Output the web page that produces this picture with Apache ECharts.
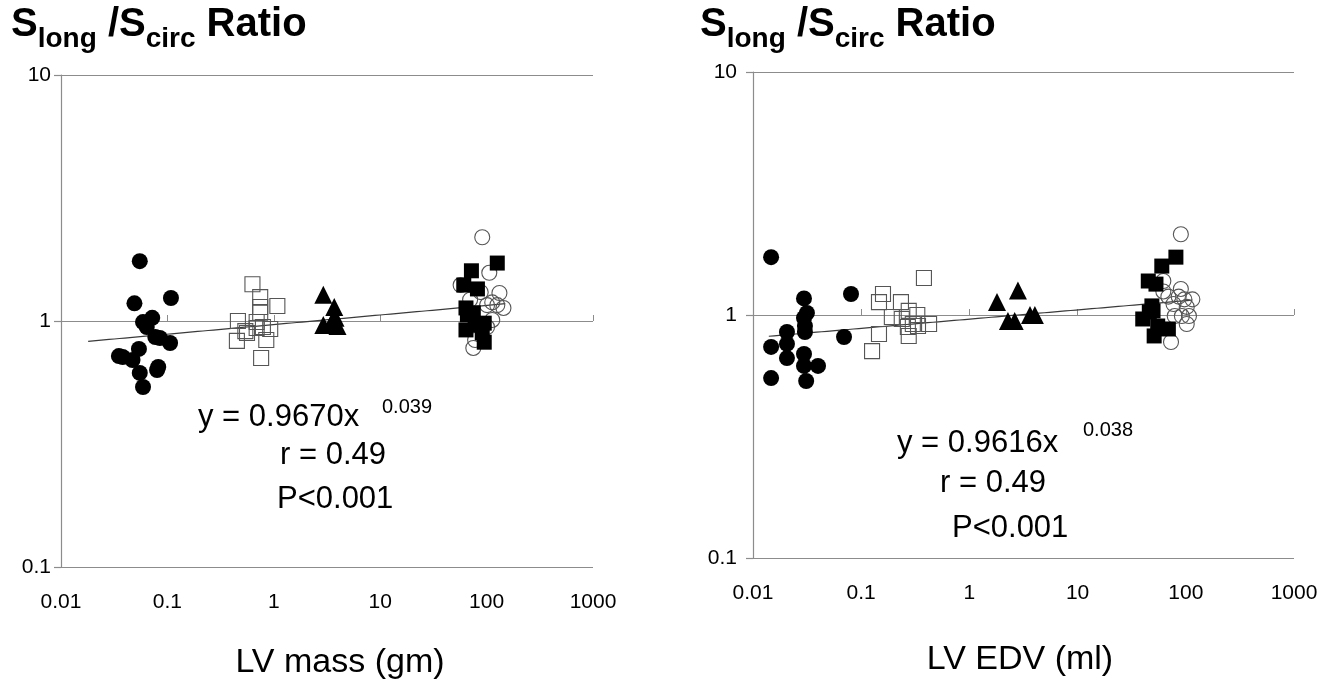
<!DOCTYPE html>
<html>
<head>
<meta charset="utf-8">
<script src="https://cdn.jsdelivr.net/npm/echarts@6/dist/echarts.min.js"></script>
<style>
  html, body { margin: 0; padding: 0; background: #fff; }
  #chart { width: 1332px; height: 689px; }
</style>
</head>
<body>
<div id="chart"></div>
<script>
// Tick labels for both panels
const xTickLabels = ['0.01', '0.1', '1', '10', '100', '1000'];
const yTickLabels = ['0.1', '1', '10'];

// Left panel: ratio vs LV mass (gm)
const massFilledCircle = [[0.055,1.75],[0.049,1.18],[0.108,1.24],[0.059,0.99],[0.072,1.03],[0.064,0.945],[0.077,0.86],[0.085,0.853],[0.106,0.814],[0.054,0.77],[0.038,0.714],[0.047,0.694],[0.055,0.615],[0.082,0.65],[0.080,0.632],[0.059,0.539],[0.035,0.72]];
const massOpenSquare = [[0.63,1.41],[0.745,1.25],[0.745,1.14],[1.08,1.15],[0.745,1.08],[0.46,1.0],[0.69,0.99],[0.925,0.928],[0.54,0.91],[0.69,0.937],[0.79,0.945],[0.45,0.83],[0.85,0.837],[0.76,0.707],[0.56,0.894]];
const massTriangle = [[2.92,1.28],[3.7,1.14],[3.8,1.03],[2.92,0.963],[3.97,0.954],[3.5,0.99]];
const massOpenCircle = [[91,2.19],[106,1.57],[57,1.40],[88,1.31],[132,1.30],[70,1.22],[113,1.19],[126,1.16],[144,1.13],[101,1.16],[113,1.01],[101,0.945],[75,0.777],[78,0.837]];
const massFilledSquare = [[126,1.72],[72,1.60],[61,1.40],[82,1.35],[64,1.13],[75,1.08],[66,1.06],[95,0.98],[64,0.92],[91,0.894],[95,0.82],[78,0.963]];
const massFit = { a: 0.9670, b: 0.039, from: 0.018, to: 150 };

// Right panel: ratio vs LV EDV (ml)
const edvFilledCircle = [[0.0147,1.73],[0.0296,1.17],[0.0805,1.22],[0.0315,1.02],[0.0296,0.972],[0.0302,0.901],[0.0302,0.851],[0.0206,0.851],[0.0206,0.76],[0.0147,0.739],[0.0206,0.665],[0.0296,0.691],[0.0296,0.617],[0.0399,0.617],[0.0147,0.55],[0.031,0.535],[0.0694,0.812]];
const edvOpenSquare = [[0.159,1.22],[0.146,1.13],[0.233,1.13],[0.38,1.42],[0.275,1.04],[0.33,1.0],[0.192,0.981],[0.237,0.963],[0.424,0.918],[0.27,0.893],[0.335,0.901],[0.146,0.835],[0.275,0.82],[0.126,0.71],[0.30,0.918]];
const edvTriangle = [[2.81,1.26],[1.8,1.13],[2.27,0.945],[2.62,0.945],[3.63,1.0],[4.03,1.0]];
const edvFilledSquare = [[81,1.73],[60,1.59],[45,1.38],[53,1.34],[48.6,1.09],[49.8,1.04],[40,0.963],[55,0.901],[69,0.876],[51,0.82],[46,1.03]];
const edvOpenCircle = [[90,2.15],[62,1.38],[90,1.28],[69,1.19],[86,1.19],[97,1.16],[115,1.16],[77,1.11],[102,1.08],[79,0.99],[92,0.99],[107,0.99],[102,0.918],[73,0.774],[62,1.25]];
const edvFit = { a: 0.9616, b: 0.038, from: 0.014, to: 115 };

// Power-law fit y = a * x^b sampled in log space
function fitCurve(fit) {
  const pts = [];
  const l0 = Math.log10(fit.from), l1 = Math.log10(fit.to);
  const n = 80;
  for (let i = 0; i <= n; i++) {
    const x = Math.pow(10, l0 + (l1 - l0) * i / n);
    pts.push([x, fit.a * Math.pow(x, fit.b)]);
  }
  return pts;
}

const FONT = 'Liberation Sans, Arial, Helvetica, sans-serif';
const GRID_LINE = '#8c8c8c';

const grids = [
  { left: 61, top: 75, width: 532, height: 492 },
  { left: 753, top: 72, width: 541, height: 486 }
];

function mainX(gi) {
  return {
    type: 'log', logBase: 10, gridIndex: gi, min: 0.01, max: 1000, interval: 1,
    axisLine: { show: false }, axisTick: { show: false }, splitLine: { show: false },
    axisLabel: {
      margin: 25, color: '#000', fontSize: 21, fontFamily: FONT,
      formatter: (v, i) => xTickLabels[i]
    }
  };
}
// Axis crossing at ratio = 1 with short upward ticks
function crossX(gi, off) {
  return {
    type: 'log', logBase: 10, gridIndex: gi, min: 0.01, max: 1000, interval: 1,
    position: 'bottom', offset: off,
    axisLine: { show: false }, axisLabel: { show: false }, splitLine: { show: false },
    axisTick: { show: true, inside: true, length: 6, lineStyle: { color: GRID_LINE, width: 1 } }
  };
}
function mainY(gi, margin) {
  return {
    type: 'log', logBase: 10, gridIndex: gi, min: 0.1, max: 10, interval: 1,
    axisLine: { show: true, lineStyle: { color: GRID_LINE, width: 1.2 } },
    axisTick: { show: true, length: 7, lineStyle: { color: GRID_LINE, width: 1.2 } },
    splitLine: { show: true, lineStyle: { color: GRID_LINE, width: 1.2 } },
    axisLabel: {
      margin: margin, color: '#000', fontSize: 21, fontFamily: FONT,
      formatter: (v, i) => yTickLabels[i]
    }
  };
}

function panelSeries(gi, d) {
  const ax = { xAxisIndex: gi * 2, yAxisIndex: gi };
  return [
    Object.assign({ type: 'line', data: fitCurve(d.fit), showSymbol: false, symbol: 'none',
      lineStyle: { color: '#3a3a3a', width: 1.2 }, z: 1, silent: true }, ax),
    Object.assign({ type: 'scatter', data: d.filledCircle, symbol: 'circle', symbolSize: 16,
      itemStyle: { color: '#000', opacity: 1 }, z: 3 }, ax),
    Object.assign({ type: 'scatter', data: d.openSquare, symbol: 'rect', symbolSize: 15,
      itemStyle: { color: 'rgba(0,0,0,0)', borderColor: '#555', borderWidth: 1.1, opacity: 1 }, z: 3 }, ax),
    Object.assign({ type: 'scatter', data: d.triangle, symbol: 'triangle', symbolSize: 18,
      itemStyle: { color: '#000', opacity: 1 }, z: 3 }, ax),
    Object.assign({ type: 'scatter', data: d.openCircle, symbol: 'circle', symbolSize: 15,
      itemStyle: { color: 'rgba(0,0,0,0)', borderColor: '#555', borderWidth: 1.1, opacity: 1 }, z: 3 }, ax),
    Object.assign({ type: 'scatter', data: d.filledSquare, symbol: 'rect', symbolSize: 15,
      itemStyle: { color: '#000', opacity: 1 }, z: 4 }, ax)
  ];
}

const titleRich = {
  a: { fontSize: 40, fontWeight: 'bold', fontFamily: FONT, color: '#000', verticalAlign: 'bottom', padding: [0, 0, 8, 0] },
  b: { fontSize: 28, fontWeight: 'bold', fontFamily: FONT, color: '#000', verticalAlign: 'bottom' }
};
const titleText = '{a|S}{b|long}{a| /S}{b|circ}{a| Ratio}';

function txt(x, y, text, size, align) {
  return { type: 'text', x: x, y: y, z: 10,
    style: { text: text, fontSize: size, fontFamily: FONT, fill: '#000',
      textAlign: align || 'left', textVerticalAlign: 'middle' } };
}

const option = {
  backgroundColor: '#fff',
  animation: false,
  title: [
    { left: 6, top: 0, text: titleText, textStyle: { rich: titleRich } },
    { left: 695, top: 0, text: titleText, textStyle: { rich: titleRich } }
  ],
  grid: grids,
  xAxis: [mainX(0), crossX(0, -246), mainX(1), crossX(1, -243)],
  yAxis: [mainY(0, 10), mainY(1, 16)],
  series: [].concat(
    panelSeries(0, { fit: massFit, filledCircle: massFilledCircle, openSquare: massOpenSquare,
      triangle: massTriangle, openCircle: massOpenCircle, filledSquare: massFilledSquare }),
    panelSeries(1, { fit: edvFit, filledCircle: edvFilledCircle, openSquare: edvOpenSquare,
      triangle: edvTriangle, openCircle: edvOpenCircle, filledSquare: edvFilledSquare })
  ),
  graphic: [
    txt(198, 417, 'y = 0.9670x', 31),
    txt(382, 407, '0.039', 20),
    txt(280, 455, 'r = 0.49', 31),
    txt(277, 499, 'P<0.001', 31),
    txt(897, 443, 'y = 0.9616x', 31),
    txt(1083, 430, '0.038', 20),
    txt(940, 483, 'r = 0.49', 31),
    txt(952, 528, 'P<0.001', 31),
    txt(340, 663, 'LV mass (gm)', 34, 'center'),
    txt(1020, 660, 'LV EDV (ml)', 34, 'center')
  ]
};

const chart = echarts.init(document.getElementById('chart'), null, { renderer: 'canvas' });
chart.setOption(option);
</script>
</body>
</html>
